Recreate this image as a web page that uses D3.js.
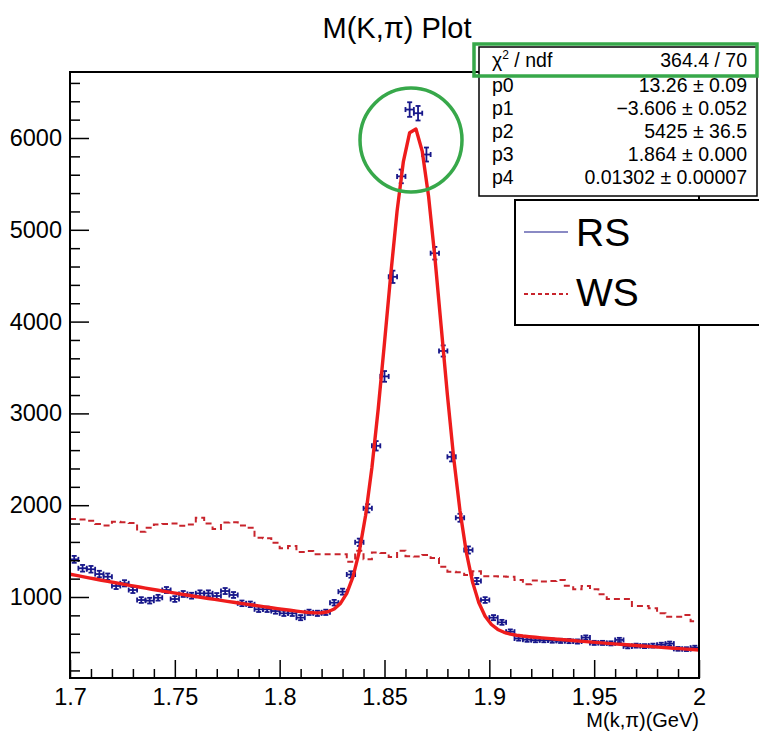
<!DOCTYPE html>
<html>
<head>
<meta charset="utf-8">
<script src="https://cdn.jsdelivr.net/npm/d3@7"></script>
<style>
  html, body { margin: 0; padding: 0; background: #fff; }
  svg { display: block; font-family: "Liberation Sans", Arial, Helvetica, sans-serif; }
</style>
</head>
<body>
<svg id="chart" width="759" height="738"></svg>
<script>
// ---------------- data ----------------
const binLow = 1.7;
const binHigh = 2.0;
const nBins = 75;
// RS: counts per bin (points with error bars)
const rsCounts = [
  1410, 1313, 1302, 1250, 1221, 1120, 1149, 1076, 967, 960,
  992, 1076, 978, 1033, 1014, 1040, 1040, 1011, 1065, 1022,
  931, 920, 866, 866, 847, 822, 822, 775, 833, 822,
  833, 938, 1058, 1245, 1596, 1966, 2647, 3403, 4488, 5582,
  6310, 6270, 5820, 4745, 3680, 2527, 1863, 1512, 1174, 967,
  775, 724, 622, 548, 535, 530, 530, 525, 522, 520,
  515, 558, 500, 500, 495, 532, 462, 470, 465, 470,
  480, 492, 435, 432, 448
];
// WS: histogram counts per bin (dashed step line)
const wsCounts = [
  1850, 1845, 1830, 1795, 1780, 1820, 1815, 1805, 1710, 1755,
  1790, 1795, 1800, 1775, 1790, 1862, 1800, 1740, 1812, 1815,
  1780, 1755, 1645, 1640, 1590, 1530, 1555, 1490, 1500, 1465,
  1465, 1465, 1465, 1385, 1505, 1410, 1485, 1480, 1435, 1505,
  1445, 1440, 1458, 1425, 1330, 1276, 1270, 1240, 1280, 1225,
  1225, 1222, 1220, 1185, 1140, 1180, 1170, 1175, 1185, 1123,
  1084, 1120, 1084, 1029, 978, 978, 978, 902, 902, 877,
  822, 785, 785, 804, 735
];
// Fit: expo(p0,p1) + gaus(p2,p3,p4), parameters from the stats box
const fitParams = [13.26, -3.606, 5425, 1.864, 0.01302];
const fitNpx = 100;
const statLabels = ["p0", "p1", "p2", "p3", "p4"];
const statValues = ["13.26 \u00b1 0.09", "\u22123.606 \u00b1 0.052", "5425 \u00b1 36.5", "1.864 \u00b1 0.000", "0.01302 \u00b1 0.00007"];
const chi2Text = "364.4 / 70";
const xMajorTicks = [1.7, 1.75, 1.8, 1.85, 1.9, 1.95, 2.0];
const xTickLabels = ["1.7", "1.75", "1.8", "1.85", "1.9", "1.95", "2"];
const yMajorTicks = [1000, 2000, 3000, 4000, 5000, 6000];
const yDomain = [117.6, 6719];
const legendLabels = ["RS", "WS"];

// ---------------- layout ----------------
const svg = d3.select("#chart");
const L = 70, R = 699, T = 72, B = 678;
const x = d3.scaleLinear().domain([binLow, binHigh]).range([L, R]);
const y = d3.scaleLinear().domain(yDomain).range([B, T]);
const bw = (binHigh - binLow) / nBins;
const font = "'Liberation Sans', Arial, Helvetica, sans-serif";

const plot = svg.append("g");
const clipId = "clipPlot";
svg.append("defs").append("clipPath").attr("id", clipId)
  .append("rect").attr("x", L).attr("y", T).attr("width", R - L).attr("height", B - T);

// WS step histogram
const wsPts = [];
wsCounts.forEach((v, i) => {
  wsPts.push([binLow + i * bw, v]);
  wsPts.push([binLow + (i + 1) * bw, v]);
});
plot.append("path")
  .attr("clip-path", `url(#${clipId})`)
  .attr("d", d3.line().x(d => x(d[0])).y(d => y(d[1]))(wsPts))
  .attr("fill", "none")
  .attr("stroke", "#c8242c")
  .attr("stroke-width", 2)
  .attr("stroke-dasharray", "6,4");

// RS points with error bars
const navy = "#17178a";
const rs = plot.append("g").attr("stroke", navy).attr("stroke-width", 1.8).attr("fill", "none");
rsCounts.forEach((v, i) => {
  const xc = binLow + (i + 0.5) * bw;
  const e = Math.sqrt(v);
  const px = x(xc), py = y(v);
  const x0 = x(xc - bw / 2), x1 = x(xc + bw / 2);
  const y0 = y(v - e), y1 = y(v + e);
  const cap = 2.5;
  rs.append("line").attr("x1", x0).attr("x2", x1).attr("y1", py).attr("y2", py);
  rs.append("line").attr("x1", px).attr("x2", px).attr("y1", y0).attr("y2", y1);
  rs.append("line").attr("x1", px - cap).attr("x2", px + cap).attr("y1", y0).attr("y2", y0);
  rs.append("line").attr("x1", px - cap).attr("x2", px + cap).attr("y1", y1).attr("y2", y1);
  rs.append("line").attr("x1", x0).attr("x2", x0).attr("y1", py - cap).attr("y2", py + cap);
  rs.append("line").attr("x1", x1).attr("x2", x1).attr("y1", py - cap).attr("y2", py + cap);
});

// Fit curve
function fitFn(xv) {
  const [p0, p1, p2, p3, p4] = fitParams;
  return Math.exp(p0 + p1 * xv) + p2 * Math.exp(-0.5 * Math.pow((xv - p3) / p4, 2));
}
const fitPts = d3.range(fitNpx + 1).map(k => {
  const xv = binLow + k * (binHigh - binLow) / fitNpx;
  return [xv, fitFn(xv)];
});
plot.append("path")
  .attr("clip-path", `url(#${clipId})`)
  .attr("d", d3.line().x(d => x(d[0])).y(d => y(d[1]))(fitPts))
  .attr("fill", "none")
  .attr("stroke", "#ee1c1c")
  .attr("stroke-width", 3.4)
  .attr("stroke-linejoin", "round");

// Axes
const xMinor = d3.range(0, 31).map(k => binLow + k * 0.01).filter(v => !xMajorTicks.some(m => Math.abs(m - v) < 1e-6));
const yMinor = d3.range(200, 6700, 200).filter(v => v % 1000 !== 0);

const xAxis = svg.append("g").attr("transform", `translate(0,${B})`)
  .call(d3.axisBottom(x).tickValues(xMajorTicks).tickSizeInner(-18).tickSizeOuter(0).tickPadding(10)
    .tickFormat((d, i) => xTickLabels[i]));
xAxis.select(".domain").remove();
xAxis.selectAll("line").attr("stroke", "#000").attr("stroke-width", 1.5);
xAxis.selectAll("text").attr("font-size", 23.5).attr("font-family", font).attr("fill", "#000");

const xAxisMinor = svg.append("g").attr("transform", `translate(0,${B})`)
  .call(d3.axisBottom(x).tickValues(xMinor).tickSizeInner(-9).tickSizeOuter(0).tickFormat(""));
xAxisMinor.select(".domain").remove();
xAxisMinor.selectAll("line").attr("stroke", "#000").attr("stroke-width", 1.5);

const yAxis = svg.append("g").attr("transform", `translate(${L},0)`)
  .call(d3.axisLeft(y).tickValues(yMajorTicks).tickSizeInner(-19).tickSizeOuter(0).tickPadding(8)
    .tickFormat(d3.format("d")));
yAxis.select(".domain").remove();
yAxis.selectAll("line").attr("stroke", "#000").attr("stroke-width", 1.5);
yAxis.selectAll("text").attr("font-size", 23.5).attr("font-family", font).attr("fill", "#000");

const yAxisMinor = svg.append("g").attr("transform", `translate(${L},0)`)
  .call(d3.axisLeft(y).tickValues(yMinor).tickSizeInner(-10).tickSizeOuter(0).tickFormat(""));
yAxisMinor.select(".domain").remove();
yAxisMinor.selectAll("line").attr("stroke", "#000").attr("stroke-width", 1.5);

// Frame
svg.append("rect").attr("x", L).attr("y", T).attr("width", R - L).attr("height", B - T)
  .attr("fill", "none").attr("stroke", "#000").attr("stroke-width", 2);

// Axis title
svg.append("text").attr("x", R).attr("y", 727).attr("text-anchor", "end")
  .attr("font-size", 20).attr("font-family", font).text("M(k,\u03c0)(GeV)");

// Title
svg.append("text").attr("x", 397).attr("y", 38).attr("text-anchor", "middle")
  .attr("font-size", 29).attr("font-family", font).text("M(K,\u03c0) Plot");

// Stats box
const sFont = 19.5;
const sb = svg.append("g");
sb.append("rect").attr("x", 479).attr("y", 47).attr("width", 278).attr("height", 149)
  .attr("fill", "#fff").attr("stroke", "#000").attr("stroke-width", 1.5);
const chiT = sb.append("text").attr("x", 492).attr("y", 67).attr("font-size", sFont).attr("font-family", font);
chiT.append("tspan").text("\u03c7");
chiT.append("tspan").attr("font-size", 12).attr("dy", -8).text("2");
chiT.append("tspan").attr("dy", 8).text(" / ndf");
sb.append("text").attr("x", 747).attr("y", 67).attr("text-anchor", "end")
  .attr("font-size", sFont).attr("font-family", font).text(chi2Text);
statLabels.forEach((lab, i) => {
  const yy = 92 + i * 23;
  sb.append("text").attr("x", 492).attr("y", yy).attr("font-size", sFont).attr("font-family", font).text(lab);
  sb.append("text").attr("x", 747).attr("y", yy).attr("text-anchor", "end")
    .attr("font-size", sFont).attr("font-family", font).text(statValues[i]);
});

// Legend
const lg = svg.append("g");
lg.append("rect").attr("x", 515).attr("y", 200).attr("width", 250).attr("height", 125)
  .attr("fill", "#fff").attr("stroke", "#000").attr("stroke-width", 2);
lg.append("line").attr("x1", 524).attr("x2", 568).attr("y1", 232).attr("y2", 232)
  .attr("stroke", navy).attr("stroke-width", 1.2);
lg.append("line").attr("x1", 524).attr("x2", 568).attr("y1", 294).attr("y2", 294)
  .attr("stroke", "#c8242c").attr("stroke-width", 2).attr("stroke-dasharray", "4,3");
lg.append("text").attr("x", 576).attr("y", 246).attr("font-size", 39).attr("font-family", font).text(legendLabels[0]);
lg.append("text").attr("x", 576).attr("y", 306).attr("font-size", 39).attr("font-family", font).text(legendLabels[1]);

// Annotations (green)
const green = "#37a84a";
svg.append("rect").attr("x", 474).attr("y", 44).attr("width", 283).attr("height", 32)
  .attr("fill", "none").attr("stroke", green).attr("stroke-width", 3.5);
svg.append("ellipse").attr("cx", 411).attr("cy", 140).attr("rx", 51).attr("ry", 52)
  .attr("fill", "none").attr("stroke", green).attr("stroke-width", 3.5);
</script>
</body>
</html>
